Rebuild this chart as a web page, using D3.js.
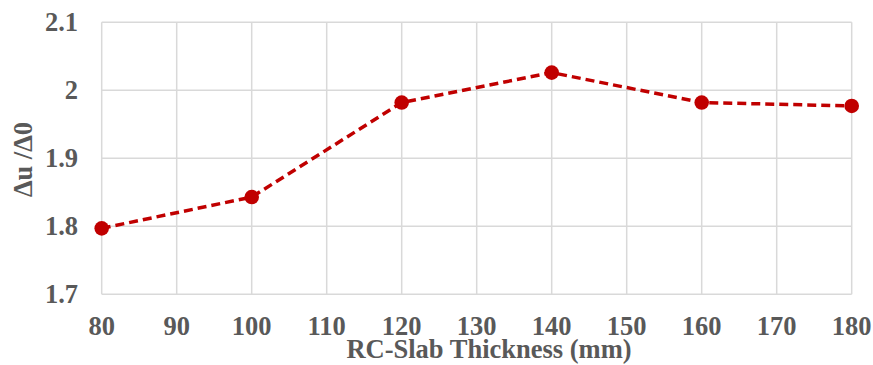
<!DOCTYPE html>
<html><head><meta charset="utf-8">
<script src="https://cdn.jsdelivr.net/npm/d3@7"></script>
<style>html,body{margin:0;padding:0;background:#fff;}</style>
</head><body>
<svg id="c" width="873" height="365"></svg>
<script>
const thickness = [80, 100, 120, 140, 160, 180];
const ratio = [1.797, 1.843, 1.982, 2.026, 1.982, 1.977];
const xTicks = [80, 90, 100, 110, 120, 130, 140, 150, 160, 170, 180];
const yTicks = [1.7, 1.8, 1.9, 2.0, 2.1];
const xTitle = "RC-Slab Thickness (mm)";
const yTitle = "\u0394u /\u03940";

const svg = d3.select("#c");
const m = {l: 101.7, r: 851.7, t: 22.3, b: 294.3};
const x = d3.scaleLinear().domain([80, 180]).range([m.l, m.r]);
const y = d3.scaleLinear().domain([1.7, 2.1]).range([m.b, m.t]);
const font = "'Liberation Serif','Times New Roman',serif";
const txt = "#595959";
const grid = "#d9d9d9";
const fs = 26.5;

svg.append("g").selectAll("line").data(yTicks).join("line")
  .attr("x1", m.l).attr("x2", m.r).attr("y1", d => y(d)).attr("y2", d => y(d))
  .attr("stroke", grid).attr("stroke-width", 1.5);
svg.append("g").selectAll("line").data(xTicks).join("line")
  .attr("y1", m.t).attr("y2", m.b).attr("x1", d => x(d)).attr("x2", d => x(d))
  .attr("stroke", grid).attr("stroke-width", 1.5);

svg.append("g").selectAll("text").data(xTicks).join("text")
  .attr("x", d => x(d)).attr("y", 335)
  .attr("text-anchor", "middle").attr("font-family", font).attr("font-weight", "bold")
  .attr("font-size", fs).attr("fill", txt).text(d => d);
svg.append("g").selectAll("text").data(yTicks).join("text")
  .attr("x", 78).attr("y", d => y(d) + 9)
  .attr("text-anchor", "end").attr("font-family", font).attr("font-weight", "bold")
  .attr("font-size", fs).attr("fill", txt).text(d => d3.format("~g")(d));

svg.append("text").attr("x", 489).attr("y", 358)
  .attr("text-anchor", "middle").attr("font-family", font).attr("font-weight", "bold")
  .attr("font-size", fs).attr("fill", txt).text(xTitle);
svg.append("text").attr("transform", `translate(32,159.5) rotate(-90)`)
  .attr("text-anchor", "middle").attr("font-family", font).attr("font-weight", "bold")
  .attr("font-size", fs).attr("fill", txt).text(yTitle);

const pts = thickness.map((t, i) => [t, ratio[i]]);
svg.append("path").datum(pts)
  .attr("d", d3.line().x(d => x(d[0])).y(d => y(d[1])))
  .attr("fill", "none").attr("stroke", "#c00000").attr("stroke-width", 3.5)
  .attr("stroke-dasharray", "9,5");
svg.append("g").selectAll("circle").data(pts).join("circle")
  .attr("cx", d => x(d[0])).attr("cy", d => y(d[1])).attr("r", 7.3)
  .attr("fill", "#c00000");
</script>
</body></html>
